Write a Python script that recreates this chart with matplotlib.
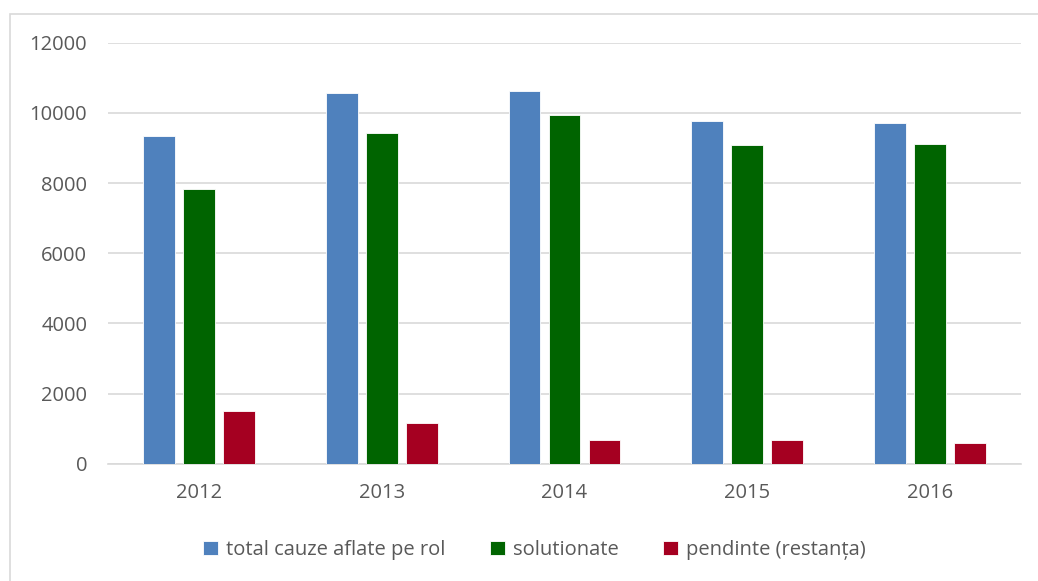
import matplotlib.pyplot as plt
import matplotlib.patches as patches
import numpy as np

# Date
ani = ['2012', '2013', '2014', '2015', '2016']
total_cauze = [9340, 10560, 10610, 9760, 9710]
solutionate = [7820, 9420, 9930, 9080, 9120]
pendinte = [1510, 1150, 680, 680, 595]

serii = ['total cauze aflate pe rol', 'solutionate', 'pendinte (restanța)']
culori = ['#4F81BD', '#006400', '#A50021']
text_color = '#595959'

plt.rcParams['font.family'] = ['Open Sans', 'DejaVu Sans']

fig = plt.figure(figsize=(10.38, 5.81), dpi=100)
ax = fig.add_axes([108 / 1038, (581 - 463.8) / 581, 913 / 1038, 421.1 / 581])

# Chenar exterior
fig.patches.append(patches.Rectangle(
    (10 / 1038, -0.1), 1.2, (581 - 14) / 581 + 0.1,
    transform=fig.transFigure, fill=False, edgecolor='#D9D9D9', linewidth=1.2))

x = np.arange(len(ani))
w = 0.175
step = 0.219
for i, (vals, nume, c) in enumerate(zip([total_cauze, solutionate, pendinte], serii, culori)):
    ax.bar(x + (i - 1) * step, vals, width=w, color=c, edgecolor='white',
           linewidth=0.6, label=nume, zorder=3)

ax.set_xlim(-0.5, len(ani) - 0.5)
ax.set_ylim(0, 12000)
ax.set_yticks(range(0, 12001, 2000))
ax.set_xticks(x)
ax.set_xticklabels(ani)
ax.yaxis.grid(True, color='#D9D9D9', linewidth=1.2, zorder=0)
ax.tick_params(axis='both', length=0, labelsize=14.5, colors=text_color)
ax.tick_params(axis='y', pad=15)
ax.tick_params(axis='x', pad=14)
for s in ['top', 'right', 'left']:
    ax.spines[s].set_visible(False)
ax.spines['bottom'].set_color('#D9D9D9')
ax.spines['bottom'].set_linewidth(1.2)

leg = fig.legend(loc='center', bbox_to_anchor=(0.515, 1 - 550 / 581), ncol=3,
                 frameon=False, fontsize=14.5, handlelength=0.75, handleheight=0.75,
                 handletextpad=0.4, columnspacing=2.2)
for t in leg.get_texts():
    t.set_color(text_color)

plt.savefig('out.png', dpi=100)
